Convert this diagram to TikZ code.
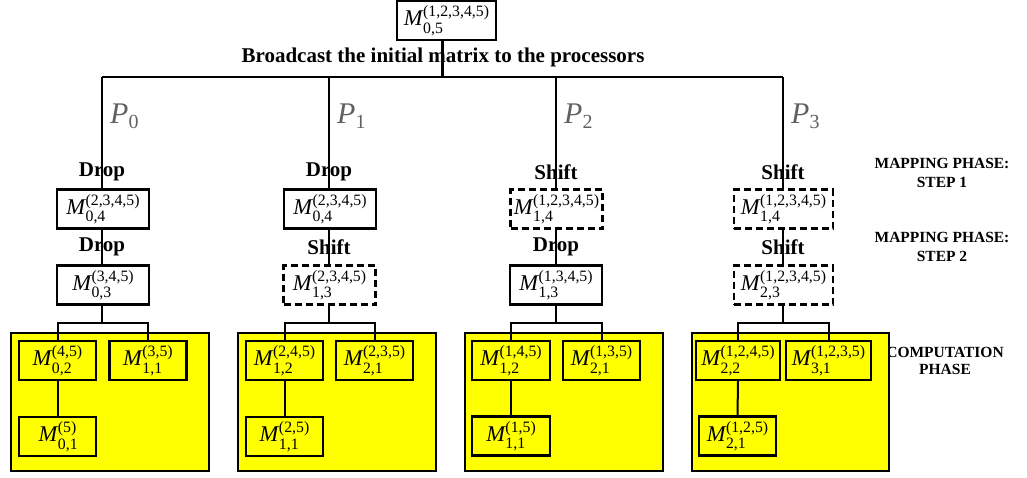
\documentclass[tikz,border=0pt]{standalone}
\usepackage{fontspec}
\setmainfont{Liberation Serif}
\definecolor{ylw}{RGB}{255,255,0}
\newcommand{\scfnt}{\fontsize{15.8}{15.8}\selectfont\upshape}
\newcommand{\mtx}[2]{{\itshape M}\kern0.5pt\rlap{\raisebox{-7.5pt}{\scfnt #1}}\raisebox{9pt}{\scfnt(#2)}}
\newcommand{\proc}[1]{{\fontsize{30}{30}\selectfont\itshape P}\raisebox{-5pt}{\fontsize{20}{20}\selectfont #1}}
\begin{document}
\begin{tikzpicture}[x=1pt,y=-1pt,
  mbox/.style={draw,line width=2.4pt,inner sep=0pt,minimum height=39pt,minimum width=92pt,font=\fontsize{22.5}{22.5}\selectfont},
  dbox/.style={mbox,dash pattern=on 7pt off 4pt},
  ibox/.style={mbox,minimum width=77pt},
  ybox/.style={draw,line width=2.6pt,fill=ylw,minimum height=138pt,minimum width=198pt,inner sep=0pt},
  opl/.style={font=\fontsize{21}{21}\selectfont\bfseries,inner sep=0pt},
  phl/.style={font=\fontsize{15.5}{19}\selectfont\bfseries,align=center,inner sep=0pt},
  pl/.style={text=black!62,anchor=base west,inner sep=0pt},
  conn/.style={line width=2.3pt},
  iconn/.style={line width=2pt}]
\useasboundingbox (0,0) rectangle (1027,477);

% top
\node[mbox,minimum width=99pt] (top) at (446.5,20.5) {\mtx{0,5}{1,2,3,4,5}};
\node[opl] (bcast) at (443,57) {Broadcast the initial matrix to the processors};
\coordinate (bc) at (442.5,77);
\coordinate (c0) at (102,77);
\coordinate (c1) at (329,77);
\coordinate (c2) at (556,77);
\coordinate (c3) at (783,77);
\coordinate (s0) at (102,323);
\coordinate (s1) at (329,323);
\coordinate (s2) at (556,323);
\coordinate (s3) at (783,323);

% processor labels
\node[pl] (lp0) at (110,123) {\proc{0}};
\node[pl] (lp1) at (337,123) {\proc{1}};
\node[pl] (lp2) at (564,123) {\proc{2}};
\node[pl] (lp3) at (791,123) {\proc{3}};

% operation labels
\node[opl] (o01) at (102,172) {Drop};
\node[opl] (o02) at (102,247) {Drop};
\node[opl] (o11) at (329,172) {Drop};
\node[opl] (o12) at (329,247) {Shift};
\node[opl] (o21) at (556,172) {Shift};
\node[opl] (o22) at (556,247) {Drop};
\node[opl] (o31) at (783,172) {Shift};
\node[opl] (o32) at (783,247) {Shift};

% phase labels
\node[phl] (ph1) at (942,172.5) {MAPPING PHASE:\\STEP 1};
\node[phl] (ph2) at (942,247) {MAPPING PHASE:\\STEP 2};
\node[phl,font=\fontsize{15.5}{17}\selectfont\bfseries] (ph3) at (945,360.5) {COMPUTATION\\PHASE};

% mapping boxes
\node[mbox] (a0) at (103,209) {\mtx{0,4}{2,3,4,5}};
\node[mbox] (b0) at (103,285) {\mtx{0,3}{3,4,5}};
\node[mbox] (a1) at (330,209) {\mtx{0,4}{2,3,4,5}};
\node[dbox] (b1) at (329.5,285) {\mtx{1,3}{2,3,4,5}};
\node[dbox] (a2) at (556.5,209) {\mtx{1,4}{1,2,3,4,5}};
\node[mbox] (b2) at (556,285) {\mtx{1,3}{1,3,4,5}};
\node[dbox,minimum width=99pt] (a3) at (783.5,209) {\mtx{1,4}{1,2,3,4,5}};
\node[dbox,minimum width=99pt] (b3) at (783.5,285) {\mtx{2,3}{1,2,3,4,5}};

% computation areas
\node[ybox] (y0) at (110,402) {};
\node[ybox] (y1) at (337,402) {};
\node[ybox] (y2) at (564,402) {};
\node[ybox,minimum width=197pt] (y3) at (790.5,402) {};

\node[ibox] (e0) at (57.5,360.5) {\mtx{0,2}{4,5}};
\node[ibox] (f0) at (148,360.5) {\mtx{1,1}{3,5}};
\node[ibox] (g0) at (57.5,436.5) {\mtx{0,1}{5}};
\node[ibox] (e1) at (284.5,360.5) {\mtx{1,2}{2,4,5}};
\node[ibox] (f1) at (374.5,360.5) {\mtx{2,1}{2,3,5}};
\node[ibox] (g1) at (284.5,436.5) {\mtx{1,1}{2,5}};
\node[ibox,minimum width=78pt] (e2) at (511,360.5) {\mtx{1,2}{1,4,5}};
\node[ibox] (f2) at (601.5,360.5) {\mtx{2,1}{1,3,5}};
\node[ibox,minimum width=78pt] (g2) at (511,436) {\mtx{1,1}{1,5}};
\node[ibox,minimum width=84pt] (e3) at (738,360.5) {\mtx{2,2}{1,2,4,5}};
\node[ibox,minimum width=85pt] (f3) at (828.5,360.5) {\mtx{3,1}{1,2,3,5}};
\node[ibox] (g3) at (737.5,436) {\mtx{2,1}{1,2,5}};

% connectors
\draw[conn] (top.south -| bc) -- (bc);
\draw[conn] (c0) -- (c3);
\foreach \i in {0,1,2,3}{
  \draw[conn] (c\i) -- (c\i |- a\i.north);
  \draw[conn] (a\i.south -| c\i) -- (b\i.north -| c\i);
  \draw[conn] (b\i.south -| c\i) -- (s\i);
  \draw[iconn] (e\i.north) |- (s\i) -| (f\i.north);
  \draw[iconn] (e\i.south) -- (g\i.north);
}
\end{tikzpicture}
\end{document}
